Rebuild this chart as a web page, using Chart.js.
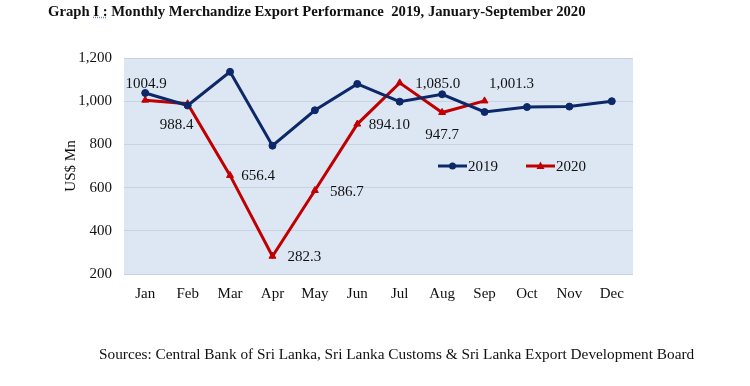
<!DOCTYPE html>
<html>
<head>
<meta charset="utf-8">
<script src="https://cdn.jsdelivr.net/npm/chart.js@4.4.1/dist/chart.umd.min.js"></script>
<style>
  html, body { margin: 0; padding: 0; background: #fff; }
  #wrap { position: relative; width: 750px; height: 386px; overflow: hidden; }
  #chart { position: absolute; left: 0; top: 0; }
  .title {
    position: absolute; left: 48px; top: 3px;
    font: bold 14.7px "Liberation Serif", "Times New Roman", serif;
    color: #111; white-space: pre;
  }
  .title u { text-decoration: underline dotted #6b7fd0; }
  .source {
    position: absolute; left: 99px; top: 345px;
    font: 15.3px "Liberation Serif", "Times New Roman", serif;
    color: #111; white-space: pre;
  }
</style>
</head>
<body>
<div id="wrap">
  <canvas id="chart" width="750" height="386"></canvas>
  <div class="title">Graph <u>I :</u> Monthly Merchandize Export Performance  2019, January-September 2020</div>
  <div class="source">Sources: Central Bank of Sri Lanka, Sri Lanka Customs &amp; Sri Lanka Export Development Board</div>
</div>
<script>
  // ── Data ──────────────────────────────────────────────
  const months = ["Jan", "Feb", "Mar", "Apr", "May", "Jun", "Jul", "Aug", "Sep", "Oct", "Nov", "Dec"];
  const exports2019 = [1038, 980, 1136, 794, 958, 1080, 998, 1032, 950, 973, 975, 1000];
  const exports2020 = [1004.9, 988.4, 656.4, 282.3, 586.7, 894.1, 1085.0, 947.7, 1001.3];
  const labels2020 = ["1004.9", "988.4", "656.4", "282.3", "586.7", "894.10", "1,085.0", "947.7", "1,001.3"];
  const yTicks = [200, 400, 600, 800, 1000, 1200];

  // label offsets from each 2020 point (dx, dy)
  const labelOffsets = [[1, -16], [-11, 21], [28, 1], [32, 1], [32, 2], [32, 1], [38, 1], [0, 23], [27, -17]];

  const BLUE = "#0c2868";
  const RED = "#c00000";
  const FONT = "'Liberation Serif', 'Times New Roman', serif";

  // ── Plot background ───────────────────────────────────
  const plotBg = {
    id: "plotBg",
    beforeDraw(chart) {
      const { ctx, chartArea: a } = chart;
      ctx.save();
      ctx.fillStyle = "#dde7f3";
      ctx.fillRect(a.left, a.top, a.right - a.left, a.bottom - a.top);
      ctx.restore();
    }
  };

  // ── Value labels for 2020 ─────────────────────────────
  const valueLabels = {
    id: "valueLabels",
    afterDatasetsDraw(chart) {
      const { ctx } = chart;
      const meta = chart.getDatasetMeta(1);
      ctx.save();
      ctx.font = "15px " + FONT;
      ctx.fillStyle = "#111";
      ctx.textAlign = "center";
      ctx.textBaseline = "middle";
      meta.data.forEach((pt, i) => {
        const off = labelOffsets[i] || [0, -15];
        ctx.fillText(labels2020[i], pt.x + off[0], pt.y + off[1]);
      });
      ctx.restore();
    }
  };

  // ── Legend inside plot ────────────────────────────────
  const innerLegend = {
    id: "innerLegend",
    afterDraw(chart) {
      const { ctx } = chart;
      const y = chart.scales.y.getPixelForValue(700);
      const items = [
        { x: 438, text: "2019", color: BLUE, shape: "circle" },
        { x: 526, text: "2020", color: RED, shape: "triangle" }
      ];
      ctx.save();
      ctx.font = "15px " + FONT;
      ctx.textBaseline = "middle";
      items.forEach((it) => {
        ctx.strokeStyle = it.color;
        ctx.fillStyle = it.color;
        ctx.lineWidth = 3;
        ctx.beginPath();
        ctx.moveTo(it.x, y);
        ctx.lineTo(it.x + 29, y);
        ctx.stroke();
        const cx = it.x + 14.5;
        ctx.beginPath();
        if (it.shape === "circle") {
          ctx.arc(cx, y, 3.5, 0, Math.PI * 2);
        } else {
          ctx.moveTo(cx, y - 4.5);
          ctx.lineTo(cx + 4, y + 3);
          ctx.lineTo(cx - 4, y + 3);
          ctx.closePath();
        }
        ctx.fill();
        ctx.fillStyle = "#111";
        ctx.fillText(it.text, it.x + 30, y + 1);
      });
      ctx.restore();
    }
  };

  new Chart(document.getElementById("chart"), {
    type: "line",
    data: {
      labels: months,
      datasets: [
        {
          label: "2019",
          data: exports2019,
          borderColor: BLUE,
          backgroundColor: BLUE,
          borderWidth: 3,
          pointStyle: "circle",
          pointRadius: 3.5,
          pointBorderWidth: 1,
          tension: 0
        },
        {
          label: "2020",
          data: exports2020,
          borderColor: RED,
          backgroundColor: RED,
          borderWidth: 3,
          pointStyle: "triangle",
          pointRadius: 4,
          pointBorderWidth: 1,
          tension: 0
        }
      ]
    },
    options: {
      responsive: false,
      animation: false,
      devicePixelRatio: 1,
      layout: { padding: { left: 58, right: 117, top: 58, bottom: 82 } },
      plugins: {
        legend: { display: false },
        tooltip: { enabled: false }
      },
      scales: {
        x: {
          offset: true,
          grid: { display: false, drawTicks: false },
          border: { display: false },
          ticks: { color: "#111", font: { family: FONT, size: 15 }, padding: 11, maxRotation: 0 },
          afterFit(scale) { scale.height = 30; }
        },
        y: {
          min: 200,
          max: 1200,
          afterBuildTicks(scale) { scale.ticks = yTicks.map((v) => ({ value: v })); },
          grid: { color: "#c9d3df", lineWidth: 1, drawTicks: false },
          border: { display: false },
          ticks: {
            color: "#111",
            font: { family: FONT, size: 15 },
            padding: 12,
            callback: (v) => v.toLocaleString("en-US")
          },
          title: {
            display: true,
            text: "US$ Mn",
            color: "#111",
            font: { family: FONT, size: 15 },
            padding: { top: 4, bottom: 4 }
          },
          afterFit(scale) { scale.width = 66; }
        }
      }
    },
    plugins: [plotBg, valueLabels, innerLegend]
  });
</script>
</body>
</html>
